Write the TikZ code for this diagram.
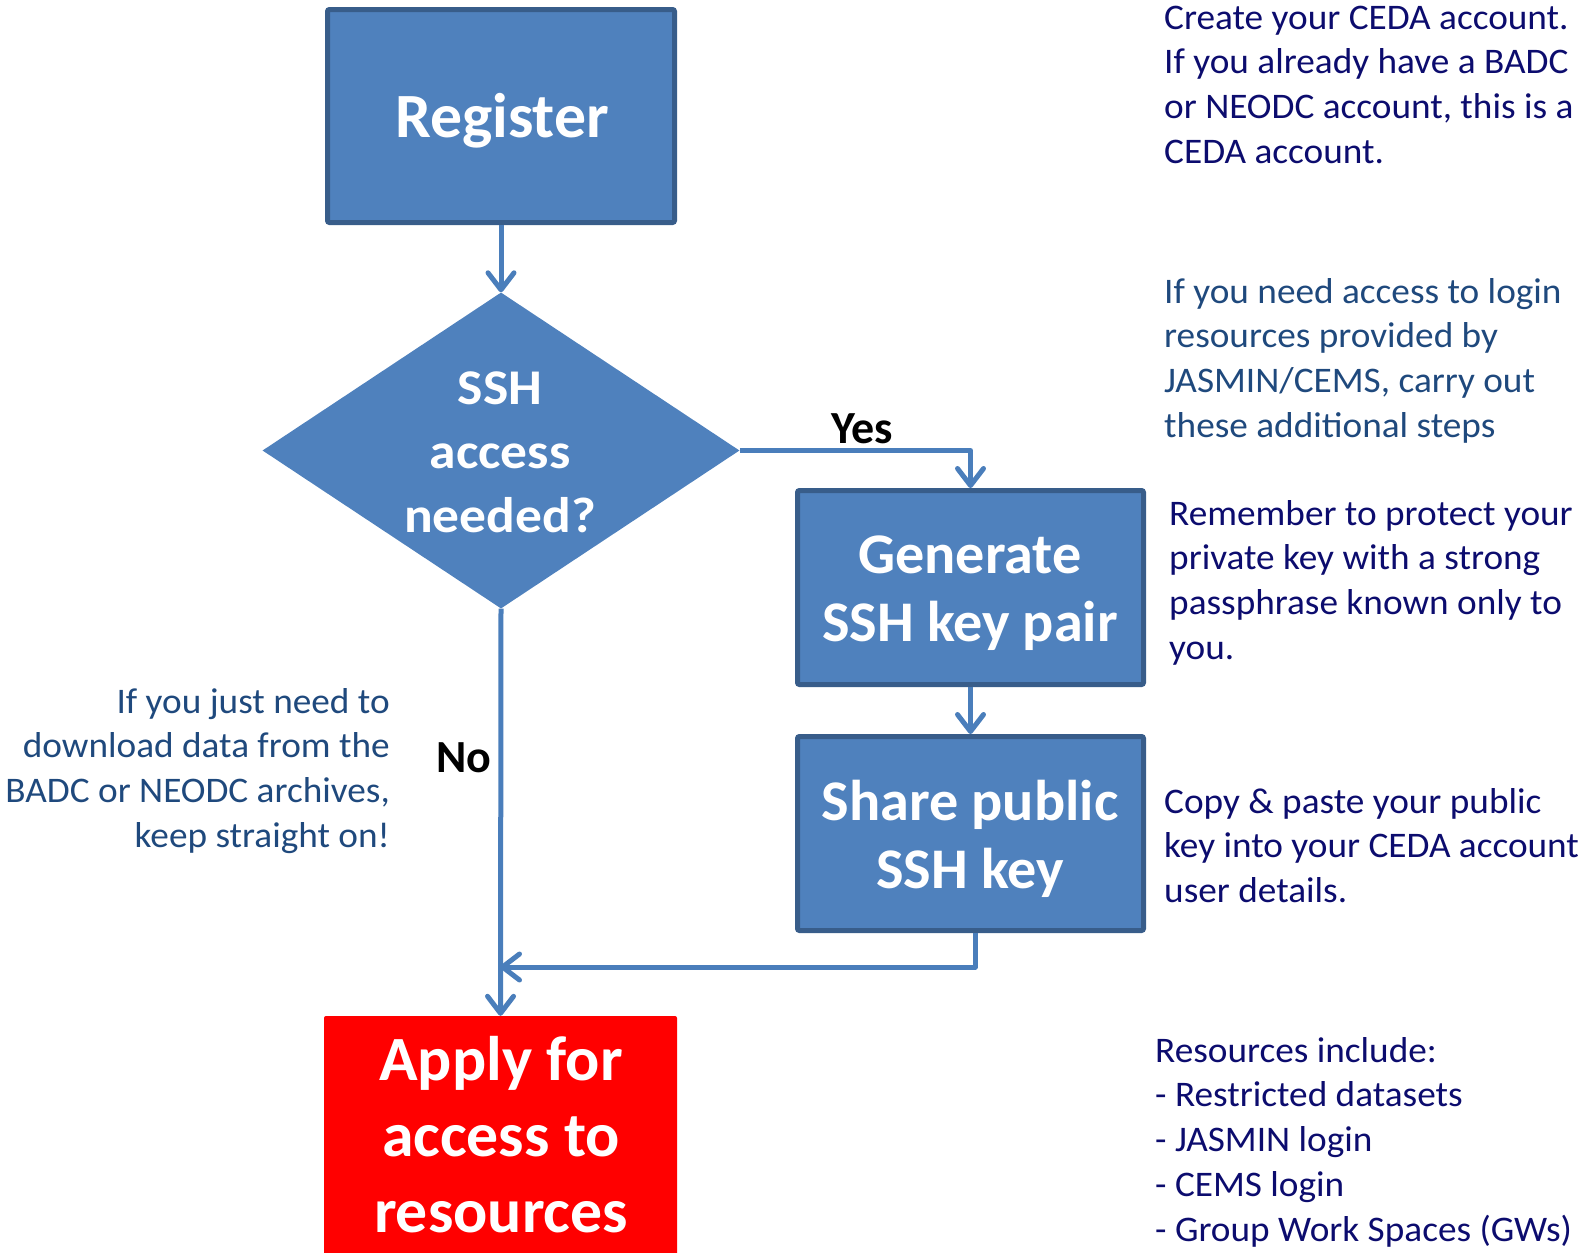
\documentclass[tikz,border=0pt]{standalone}
\usepackage{fontspec}
\setmainfont{Carlito}
\newfontfamily\notefont[FakeStretch=1.035]{Carlito}
\newfontfamily\diafont[FakeStretch=1.07]{Carlito}
\newfontfamily\boxfont[FakeStretch=1.012]{Carlito}
\usetikzlibrary{arrows.meta,shapes.geometric}
\definecolor{boxfill}{HTML}{4F81BD}
\definecolor{boxborder}{HTML}{385D8A}
\definecolor{conncol}{HTML}{4A7EBB}
\definecolor{navytxt}{HTML}{0C0C6E}
\definecolor{steeltxt}{HTML}{1F497D}
\tikzset{
  stepbox/.style={draw=boxborder, line width=5pt, fill=boxfill, rounded corners=2pt,
    inner sep=0pt, minimum width=346pt, minimum height=194pt},
  conn/.style={draw=conncol, line width=5pt, line join=round,
    -{Straight Barb[length=17pt,width=26pt,round]}},
  boxtxt/.style={anchor=base, inner sep=0pt, text=white},
  note/.style={inner sep=0pt, font=\notefont\fontsize{36}{44.8}\selectfont},
  yesno/.style={anchor=base, inner sep=0pt, text=black, font=\fontsize{46}{55}\selectfont\bfseries}
}
\begin{document}
\begin{tikzpicture}[x=1pt,y=-1pt]
\useasboundingbox (0,0) rectangle (1585,1253);
% boxes
\node[stepbox, minimum width=347pt, minimum height=213pt] (reg) at (501,116) {};
\node[diamond, fill=boxfill, inner sep=0pt, minimum width=477pt, minimum height=316pt] (dia) at (501,450.5) {};
\node[stepbox] (gen) at (970.5,587.5) {};
\node[stepbox] (share) at (970.5,833.5) {};
\node[fill=red, rounded corners=2pt, inner sep=0pt, minimum width=353pt, minimum height=260pt] (apply) at (500.5,1146) {};
% box texts
\node[boxtxt, font=\boxfont\fontsize{63}{76}\selectfont\bfseries] (regt) at (502,137)
  {\begin{tabular}[t]{@{}c@{}}Register\end{tabular}};
\node[boxtxt, font=\diafont\fontsize{50}{64}\selectfont\bfseries] (diat) at (500,404)
  {\begin{tabular}[t]{@{}c@{}}SSH\\ access\\ needed?\end{tabular}};
\node[boxtxt, font=\boxfont\fontsize{57.5}{68.5}\selectfont\bfseries] (gent) at (970,573)
  {\begin{tabular}[t]{@{}c@{}}Generate\\ SSH key pair\end{tabular}};
\node[boxtxt, font=\boxfont\fontsize{57.5}{68}\selectfont\bfseries] (sharet) at (970,820)
  {\begin{tabular}[t]{@{}c@{}}Share public\\ SSH key\end{tabular}};
\node[boxtxt, font=\boxfont\fontsize{63}{76}\selectfont\bfseries] (applyt) at (501,1080)
  {\begin{tabular}[t]{@{}c@{}}Apply for\\ access to\\ resources\end{tabular}};
% connectors
\coordinate (merge) at (500,967);
\draw[conn] (reg.south) -- (dia.north);
\draw[conn] (dia.east) -| (gen.north);
\draw[conn] (gen.south) -- (share.north);
\draw[conn] ([xshift=4.5pt]share.south) |- (merge);
\draw[conn] (dia.south) -- (apply.north);
% branch labels
\node[yesno] (yes) at (862,443) {Yes};
\node[yesno] (no) at (464,772) {No};
% notes
\node[note, anchor=base west, text=navytxt] (n1) at (1164,29)
  {\begin{tabular}[t]{@{}l@{}}Create your CEDA account.\\ If you already have a BADC\\ or NEODC account, this is a\\ CEDA account.\end{tabular}};
\node[note, anchor=base west, text=steeltxt] (n2) at (1164,303)
  {\begin{tabular}[t]{@{}l@{}}If you need access to login\\ resources provided by\\ JASMIN/CEMS, carry out\\ these additional steps\end{tabular}};
\node[note, anchor=base west, text=navytxt] (n3) at (1169,525)
  {\begin{tabular}[t]{@{}l@{}}Remember to protect your\\ private key with a strong\\ passphrase known only to\\ you.\end{tabular}};
\node[note, anchor=base west, text=navytxt] (n4) at (1164,813)
  {\begin{tabular}[t]{@{}l@{}}Copy \& paste your public\\ key into your CEDA account\\ user details.\end{tabular}};
\node[note, anchor=base west, text=navytxt] (n5) at (1155,1062)
  {\begin{tabular}[t]{@{}l@{}}Resources include:\\ - Restricted datasets\\ - JASMIN login\\ - CEMS login\\ - Group Work Spaces (GWs)\end{tabular}};
\node[note, anchor=base east, text=steeltxt] (n6) at (390,713)
  {\begin{tabular}[t]{@{}r@{}}If you just need to\\ download data from the\\ BADC or NEODC archives,\\ keep straight on!\end{tabular}};
\end{tikzpicture}
\end{document}
